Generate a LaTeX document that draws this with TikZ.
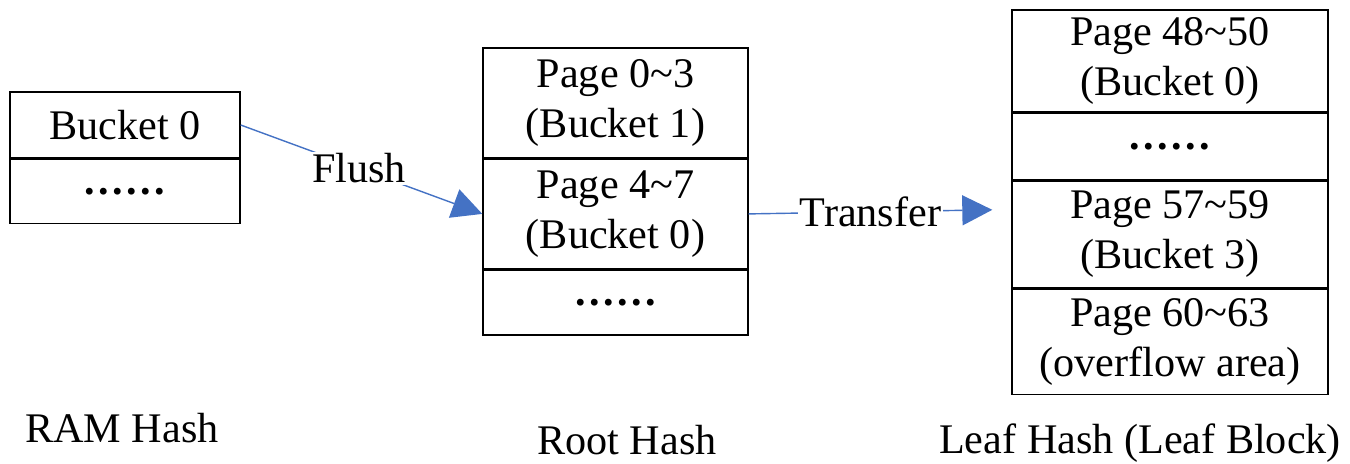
\documentclass[tikz,border=0pt]{standalone}
\usepackage{fontspec}
\setmainfont{Liberation Serif}
\usetikzlibrary{arrows.meta,positioning}

\newcommand{\moredots}{\textbf{.\kern2pt.\kern2pt.\kern2pt.\kern2pt.\kern2pt.}}

\begin{document}
\begin{tikzpicture}[
  font=\fontsize{24}{28.5}\selectfont,
  >={Triangle[length=6mm,width=6mm]},
  node distance=0pt,
  cell/.style={draw, line width=0.8pt, align=center, inner sep=0pt},
  ramcell/.style={cell, minimum width=4.6cm},
  rootcell/.style={cell, minimum width=5.3cm},
  leafcell/.style={cell, minimum width=6.32cm},
  flow/.style={->, color={rgb,255:red,68;green,114;blue,196}, line width=0.8pt},
  lbl/.style={inner sep=1pt},
]
\useasboundingbox (0,0) rectangle (27,-9.26);
% RAM hash
\node[ramcell, minimum height=1.32cm] (r1) at (2.5,-2.5) {Bucket 0};
\node[ramcell, minimum height=1.28cm, below=of r1] (r2) {\moredots};
% Root hash
\node[rootcell, minimum height=2.2cm] (o1) at (12.31,-2.06) {Page 0\textasciitilde3\\(Bucket 1)};
\node[rootcell, minimum height=2.18cm, below=of o1] (o2) {Page 4\textasciitilde7\\(Bucket 0)};
\node[rootcell, minimum height=1.3cm, below=of o2] (o3) {\moredots};
% Leaf hash
\node[leafcell, minimum height=2.04cm] (l1) at (23.4,-1.22) {Page 48\textasciitilde50\\(Bucket 0)};
\node[leafcell, minimum height=1.32cm, below=of l1] (l2) {\moredots};
\node[leafcell, minimum height=2.14cm, below=of l2] (l3) {Page 57\textasciitilde59\\(Bucket 3)};
\node[leafcell, minimum height=2.1cm, below=of l3] (l4) {Page 60\textasciitilde63\\(overflow area)};
% Captions
\node[lbl] (ramlbl) at (2.44,-8.56) {RAM Hash};
\node[lbl] (rootlbl) at (12.54,-8.8) {Root Hash};
\node[lbl] (leaflbl) at (22.8,-8.86) {Leaf Hash (Leaf Block)};
% Arrows
\coordinate (tend) at ([xshift=-3.8mm,yshift=4.9mm]l3.west);
\draw[flow] (r1.east) -- node[fill=white, text=black, inner sep=1pt, pos=0.49] {Flush} (o2.west);
\draw[flow] (o2.east) -- node[fill=white, text=black, inner sep=1pt, pos=0.5] {Transfer} (tend);
\end{tikzpicture}
\end{document}
